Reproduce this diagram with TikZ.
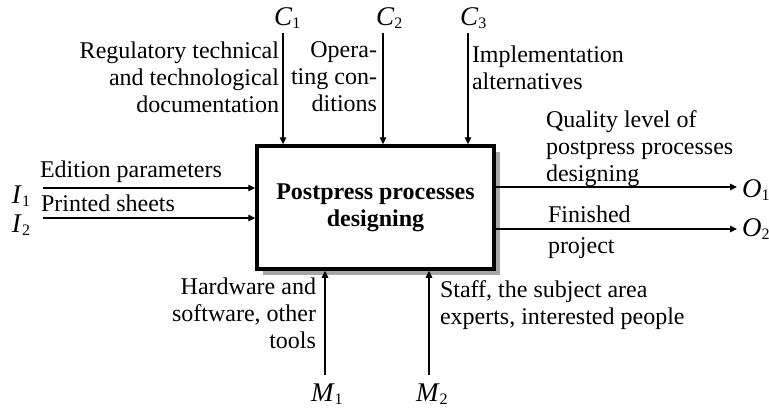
\documentclass[tikz,border=0pt]{standalone}
\usepackage{fontspec}
\setmainfont{Liberation Serif}
\usetikzlibrary{arrows.meta,shadows}
\newcommand\idxlbl[2]{{\fontsize{27}{27}\selectfont\textit{#1}}\raisebox{-0.35ex}{\fontsize{16}{16}\selectfont #2}}
\begin{document}
\begin{tikzpicture}[x=1pt,y=-1pt,
  font=\fontsize{24}{27}\selectfont,
  flow/.style={line width=1.4pt,-{Triangle[length=7pt,width=6.5pt]}},
  txt/.style={inner sep=0pt,outer sep=0pt},
  lbl/.style={inner sep=0pt,outer sep=0pt,anchor=base west},
  procbox/.style={draw,line width=3.5pt,fill=white,minimum width=237pt,minimum height=123pt,
    inner sep=0pt,align=center,font=\fontsize{24}{27}\selectfont\bfseries,
    drop shadow={shadow xshift=6pt,shadow yshift=-6pt,fill=black!35,opacity=1}}]
\useasboundingbox (0,0) rectangle (769,408);

\node[procbox] (box) at (375.5,207.5) {Postpress processes\\designing};

% controls
\node[lbl] (C1) at (274,25) {\idxlbl{C}{1}};
\node[lbl] (C2) at (376,25) {\idxlbl{C}{2}};
\node[lbl] (C3) at (460,25) {\idxlbl{C}{3}};
\coordinate (c1s) at (283,33);
\coordinate (c2s) at (383,33);
\coordinate (c3s) at (468,33);
\draw[flow] (c1s) -- (c1s |- box.north);
\draw[flow] (c2s) -- (c2s |- box.north);
\draw[flow] (c3s) -- (c3s |- box.north);
\node[txt,anchor=north east,align=right] (t1) at (279,42) {Regulatory technical\\and technological\\documentation};
\node[txt,anchor=north east,align=right] (t2) at (377,42) {Opera-\\ting con-\\ditions};
\node[txt,anchor=north west,align=left] (t3) at (472,46) {Implementation\\alternatives};

% inputs
\node[lbl] (I1) at (12,203) {\idxlbl{I}{1}};
\node[lbl] (I2) at (12,232) {\idxlbl{I}{2}};
\coordinate (i1s) at (43,188);
\coordinate (i2s) at (43,218);
\draw[flow] (i1s) -- (box.west |- i1s);
\draw[flow] (i2s) -- (box.west |- i2s);
\node[lbl] (t4) at (40,177) {Edition parameters};
\node[lbl] (t5) at (41,211) {Printed sheets};

% outputs
\coordinate (o1e) at (737,187);
\coordinate (o2e) at (737,229);
\draw[flow] (box.east |- o1e) -- (o1e);
\draw[flow] (box.east |- o2e) -- (o2e);
\node[lbl] (O1) at (742,197) {\idxlbl{O}{1}};
\node[lbl] (O2) at (742,236) {\idxlbl{O}{2}};
\node[txt,anchor=north west,align=left] (t6) at (546,111) {Quality level of\\postpress processes\\designing};
\node[lbl] (t7) at (548,222) {Finished};
\node[lbl] (t8) at (548,253) {project};

% mechanisms
\coordinate (m1s) at (325,375);
\coordinate (m2s) at (429,375);
\draw[flow] (m1s) -- (m1s |- box.south);
\draw[flow] (m2s) -- (m2s |- box.south);
\node[lbl] (M1) at (311,401) {\idxlbl{M}{1}};
\node[lbl] (M2) at (416,401) {\idxlbl{M}{2}};
\node[txt,anchor=north east,align=right] (t9) at (316,278) {Hardware and\\software, other\\tools};
\node[txt,anchor=north west,align=left] (t10) at (440,281) {Staff, the subject area\\experts, interested people};
\end{tikzpicture}
\end{document}
